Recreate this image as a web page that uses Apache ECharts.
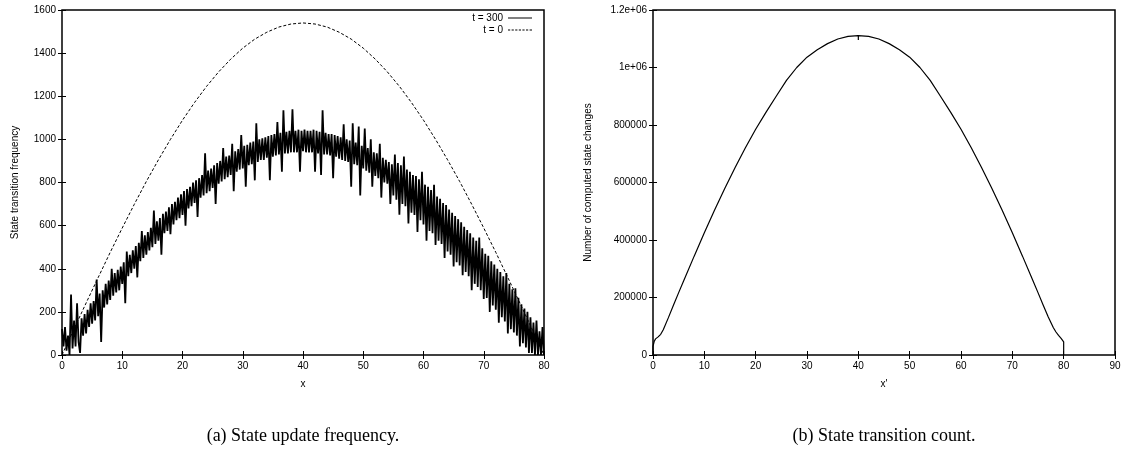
<!DOCTYPE html>
<html><head><meta charset="utf-8">
<script src="https://cdn.jsdelivr.net/npm/echarts@6/dist/echarts.min.js"></script>
<style>html,body{margin:0;padding:0;background:#fff}#c{width:1125px;height:454px}</style>
</head><body><div id="c"></div>
<script>
// ---- (a) State update frequency ----
// t = 300 : values at x = 0, 0.25, 0.5, ... 80 (step 0.25)
const t300Step = 0.25;
const t300 = [
 120, 40, 130, 20,   90, 0, 280, 30,    160, 40, 240, 60,   10, 170, 90, 190,   100, 210, 130, 240,
 145, 250, 160, 350, 180, 285, 60, 300, 220, 330, 235, 345, 255, 400, 275, 380, 290, 395, 300, 410,
 330, 430, 240, 480, 365, 465, 380, 485, 400, 505, 360, 520, 435, 575, 450, 555, 465, 570, 485, 590,
 500, 670, 515, 620, 530, 635, 465, 655, 565, 665, 575, 685, 560, 700, 605, 710, 625, 730, 635, 745,
 650, 760, 600, 770, 680, 780, 690, 800, 705, 810, 640, 820, 730, 835, 740, 935, 750, 855, 760, 865,
 775, 880, 700, 890, 795, 900, 805, 960, 815, 920, 825, 925, 835, 980, 760, 945, 850, 955, 860, 1020,
 865, 970, 780, 975, 880, 985, 885, 990, 810, 1075, 895, 1000, 905, 1005, 905, 1010, 915, 1015, 810, 1020,
 920, 1025, 925, 1080, 930, 1030, 850, 1135, 935, 1035, 935, 1040, 940, 1140, 940, 1040, 940, 1045, 850, 1040,
 945, 1045, 940, 1040, 940, 1040, 940, 1045, 850, 1040, 935, 1035, 835, 1135, 930, 1030, 930, 1025, 925, 1025,
 820, 1020, 920, 1015, 910, 1010, 905, 1070, 900, 1000, 895, 995, 780, 1075, 885, 985, 880, 1060, 740, 970,
 865, 1050, 855, 960, 845, 1000, 780, 940, 830, 935, 820, 980, 730, 915, 800, 905, 795, 895, 700, 885,
 740, 930, 720, 890, 650, 880, 700, 920, 690, 860, 610, 850, 660, 835, 650, 830, 570, 815, 625, 850,
 605, 790, 530, 780, 575, 765, 565, 790, 510, 735, 530, 725, 515, 705, 450, 695, 480, 675, 465, 660,
 410, 645, 430, 630, 415, 615, 370, 595, 385, 580, 365, 565, 300, 545, 330, 530, 315, 545, 300, 495,
 260, 470, 265, 460, 200, 435, 230, 420, 210, 400, 150, 385, 175, 365, 155, 380, 100, 330, 120, 305,
 105, 310, 90, 265,  40, 235, 55, 215,   35, 200, 10, 175,   10, 150, 0, 160,    0, 110, 0, 130,
 0
];
// t = 0 : values at x = 0, 2, 4, ... 80
const t0Step = 2;
const t0 = [0, 121, 241, 359, 476, 589, 699, 805, 905, 1000, 1089, 1171, 1246, 1313, 1372, 1423, 1465, 1497, 1521, 1535,
 1540, 1535, 1521, 1497, 1465, 1423, 1372, 1313, 1246, 1171, 1089, 1000, 905, 805, 699, 589, 476, 359, 241, 121, 0];

// ---- (b) State transition count ----
const countX = [0, 0, 0.25, 0.5, 1, 1.5, 2, 3, 4, 5, 6, 8, 10, 12, 14, 16, 18, 20, 22, 24, 26, 28, 30, 32, 34, 36, 38,
 40, 40, 40, 42, 44, 46, 48, 50, 52, 54, 56, 58, 60, 62, 64, 66, 68, 70, 72, 74, 75, 76, 77, 78, 78.5, 79, 79.5, 80, 80];
const countY = [0, 30000, 48000, 56000, 63000, 72000, 88000, 130000, 174000, 217000, 259000, 343000, 425000, 504000,
 580000, 652000, 721000, 785000, 844000, 900000, 955000, 1000000, 1036000, 1062000, 1083000, 1099000, 1108000,
 1111000, 1096000, 1111000, 1108000, 1099000, 1083000, 1062000, 1036000, 1000000, 955000, 900000, 844000, 785000,
 721000, 652000, 580000, 504000, 425000, 343000, 259000, 217000, 174000, 132000, 95000, 80000, 68000, 58000, 46000, 0];
const countYTickLabels = ['0', '200000', '400000', '600000', '800000', '1e+06', '1.2e+06'];

const FONT = 'Liberation Sans';
const t300Data = t300.map((v, i) => [i * t300Step, v]);
const t0Data = t0.map((v, i) => [i * t0Step, v]);
const countData = countX.map((x, i) => [x, countY[i]]);

const tick = { show: true, inside: true, length: 4, lineStyle: { color: '#000', width: 1 } };
const lbl = { color: '#000', fontSize: 10, fontFamily: FONT };
function mainX(grid, max, name) {
  return { gridIndex: grid, type: 'value', min: 0, max: max, interval: 10, position: 'bottom',
    axisLine: { show: false }, axisTick: tick, splitLine: { show: false },
    axisLabel: Object.assign({ margin: 6, formatter: v => String(v) }, lbl),
    name: name, nameLocation: 'middle', nameGap: 24, nameTextStyle: lbl };
}
function mirrorX(grid, max) {
  return { gridIndex: grid, type: 'value', min: 0, max: max, interval: 10, position: 'top',
    axisLine: { show: false }, axisTick: tick, splitLine: { show: false }, axisLabel: { show: false } };
}
function mainY(grid, max, interval, name, gap, fmt) {
  return { gridIndex: grid, type: 'value', min: 0, max: max, interval: interval, position: 'left',
    axisLine: { show: false }, axisTick: tick, splitLine: { show: false },
    axisLabel: Object.assign({ margin: 6, formatter: fmt }, lbl),
    name: name, nameLocation: 'middle', nameGap: gap, nameRotate: 90, nameTextStyle: lbl };
}
function mirrorY(grid, max, interval) {
  return { gridIndex: grid, type: 'value', min: 0, max: max, interval: interval, position: 'right',
    axisLine: { show: false }, axisTick: tick, splitLine: { show: false }, axisLabel: { show: false } };
}

const solidIcon = 'path://M0 0H24V1H0Z';
const dashIcon = 'path://M0 0H2.2V1H0Z M3.6 0H5.8V1H3.6Z M7.2 0H9.4V1H7.2Z M10.8 0H13V1H10.8Z M14.4 0H16.6V1H14.4Z M18 0H20.2V1H18Z M21.6 0H24V1H21.6Z';
const legText = { color: '#000', fontSize: 10, fontFamily: FONT };

const chart = echarts.init(document.getElementById('c'), null, { renderer: 'canvas' });
chart.setOption({
  animation: false,
  backgroundColor: '#fff',
  grid: [
    { left: 62, top: 10, width: 482, height: 345, show: true, borderColor: '#000', borderWidth: 1.5, backgroundColor: 'transparent' },
    { left: 653, top: 10, width: 462, height: 345, show: true, borderColor: '#000', borderWidth: 1.5, backgroundColor: 'transparent' }
  ],
  xAxis: [mainX(0, 80, 'x'), mirrorX(0, 80), mainX(1, 90, "x'"), mirrorX(1, 90)],
  yAxis: [
    mainY(0, 1600, 200, 'State transition frequency', 42, v => String(v)),
    mirrorY(0, 1600, 200),
    mainY(1, 1200000, 200000, 'Number of computed state changes', 60, v => countYTickLabels[Math.round(v / 200000)]),
    mirrorY(1, 1200000, 200000)
  ],
  legend: [
    { data: [{ name: 't = 300', icon: solidIcon }], right: 593, top: 13, align: 'right', itemWidth: 24, itemHeight: 1, padding: 0,
      itemStyle: { color: '#000' }, textStyle: legText },
    { data: [{ name: 't = 0', icon: dashIcon }], right: 593, top: 25, align: 'right', itemWidth: 24, itemHeight: 1, padding: 0,
      itemStyle: { color: '#000' }, textStyle: legText }
  ],
  series: [
    { name: 't = 300', type: 'line', xAxisIndex: 0, yAxisIndex: 0, data: t300Data, symbol: 'none',
      lineStyle: { color: '#000', width: 1.8 }, itemStyle: { color: '#000' } },
    { name: 't = 0', type: 'line', xAxisIndex: 0, yAxisIndex: 0, data: t0Data, symbol: 'none',
      lineStyle: { color: '#000', width: 1, type: [3, 2] }, itemStyle: { color: '#000' } },
    { name: 'count', type: 'line', xAxisIndex: 2, yAxisIndex: 2, data: countData, symbol: 'none',
      lineStyle: { color: '#000', width: 1.2 }, itemStyle: { color: '#000' } }
  ],
  graphic: [
    { type: 'text', x: 303, y: 436, style: { text: '(a) State update frequency.', font: '18px "Liberation Serif"', fill: '#000', align: 'center', verticalAlign: 'middle' } },
    { type: 'text', x: 884, y: 436, style: { text: '(b) State transition count.', font: '18px "Liberation Serif"', fill: '#000', align: 'center', verticalAlign: 'middle' } }
  ]
});
</script>
</body></html>
